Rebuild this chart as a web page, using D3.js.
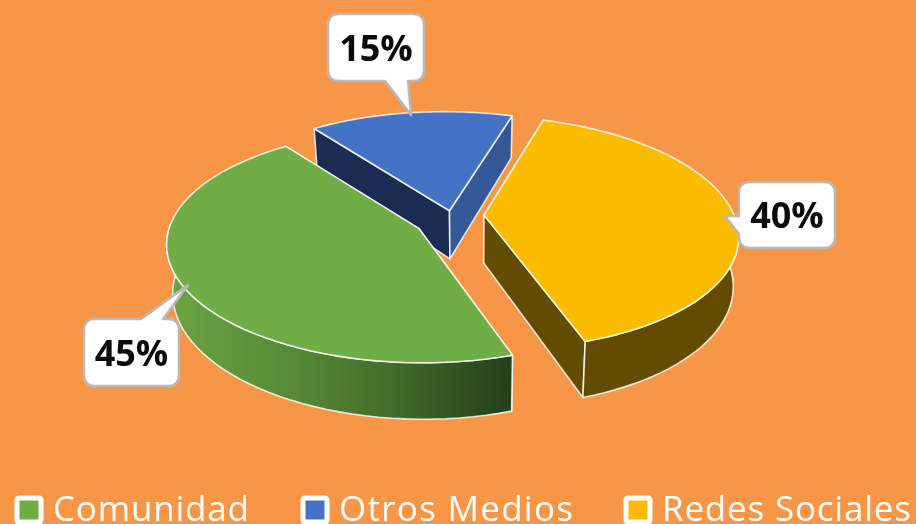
<!DOCTYPE html>
<html>
<head>
<meta charset="utf-8">
<script src="https://cdn.jsdelivr.net/npm/d3@7/dist/d3.min.js"></script>
<style>html,body{margin:0;padding:0;background:#F79646;overflow:hidden}svg{display:block;filter:blur(0.5px)}</style>
</head>
<body>
<svg id="c" width="916" height="524"></svg>
<script>
// ---- data ----
const categories = ["Comunidad", "Otros Medios", "Redes Sociales"];
const values = [45, 15, 40];
const labels = ["45%", "15%", "40%"];

// ---- styles & layout ----
const topColors = ["#70AD47", "#4472C4", "#FBBC00"];
const startFaceColors = ["#3f6428", "#1A2C52", "#634C00"];
const endFaceColors = ["#3f6428", "#355899", "#634C00"];
const explodeAmounts = [37, 16, 32];
const liftOffsets = [3, 0, -3];
const shears = [3, 6, 10];
const centre = {x: 452, y: 218};
const R = 250, RY = 114, P = 0.15, H = 48, VX = 470, SHRINK = 0.98;
const rad = d => d * Math.PI / 180;

const svg = d3.select("#c");
svg.append("rect").attr("width", 916).attr("height", 524).attr("fill", "#F79646");

const defs = svg.append("defs");
const grad = defs.append("linearGradient").attr("id", "gw").attr("gradientUnits", "userSpaceOnUse")
  .attr("x1", 170).attr("x2", 512).attr("y1", 0).attr("y2", 0);
[[0, "#6AA343"], [0.35, "#578A37"], [0.6, "#48712B"], [1, "#233F1C"]]
  .forEach(s => grad.append("stop").attr("offset", s[0]).attr("stop-color", s[1]));
const wallFills = ["url(#gw)", "#355899", "#634C00"];

const pie = d3.pie().sort(null).startAngle(rad(162)).endAngle(rad(522));
const arcs = pie(values);

// perspective projection of a rim point on the disc (r=1 rim, r=0 apex)
function project(apex, a, r, z) {
  const X = r * Math.sin(a), Y = r * Math.cos(a);
  const f = 1 / (1 + P * Y);
  let x = apex.x + (R * X - apex.shear * Y) * f;
  let y = apex.y - RY * Y * f;
  if (z) { x = VX + (x - VX) * SHRINK; y += H * f; }
  return [x, y];
}
const line = d3.line();
const sampled = (a0, a1) => d3.range(0, 61).map(i => a0 + (a1 - a0) * i / 60);

const slices = arcs.map((d, i) => {
  const mid = (d.startAngle + d.endAngle) / 2;
  const e = explodeAmounts[i];
  return {i, d, apex: {
    x: centre.x + e * Math.sin(mid),
    y: centre.y + liftOffsets[i] - e * Math.cos(mid) * RY / R,
    shear: shears[i]
  }};
});

const g = svg.append("g");
const edge = {stroke: "#fff", op: 0.82, w: 1.6};
function poly(pts, fill) {
  g.append("path").attr("d", line(pts) + "Z").attr("fill", fill)
    .attr("stroke", edge.stroke).attr("stroke-opacity", edge.op)
    .attr("stroke-width", edge.w).attr("stroke-linejoin", "round");
}
// back to front: Otros Medios, Redes Sociales, Comunidad
[1, 2, 0].forEach(k => {
  const s = slices[k], {d, apex, i} = s;
  const a0 = d.startAngle, a1 = d.endAngle;
  // radial side faces
  poly([project(apex, a0, 0, 0), project(apex, a0, 1, 0), project(apex, a0, 1, 1), project(apex, a0, 0, 1)], startFaceColors[i]);
  poly([project(apex, a1, 0, 0), project(apex, a1, 1, 0), project(apex, a1, 1, 1), project(apex, a1, 0, 1)], endFaceColors[i]);
  // outer curved wall, front part only
  const front = sampled(a0, a1).filter(a => Math.cos(a) < 0.05);
  if (front.length > 1) {
    poly(front.map(a => project(apex, a, 1, 0)).concat(front.slice().reverse().map(a => project(apex, a, 1, 1))), wallFills[i]);
  }
  // top face
  poly([project(apex, a0, 0, 0)].concat(sampled(a0, a1).map(a => project(apex, a, 1, 0))), topColors[i]);
});

// ---- callouts ----
const callouts = [
  {x0: 84, y0: 319, x1: 179, y1: 386, tip: [188, 285], side: "top", b0: 141, b1: 163},
  {x0: 328, y0: 14, x1: 424, y1: 81, tip: [411, 115], side: "bottom", b0: 385, b1: 408},
  {x0: 739, y0: 182, x1: 835, y1: 248, tip: [725, 216], side: "left", b0: 216, b1: 234}
];
const fontBold = "'Open Sans','Noto Sans',sans-serif";
callouts.forEach((c, i) => {
  const r = 11, p = d3.path();
  p.moveTo(c.x0 + r, c.y0);
  if (c.side === "top") { p.lineTo(c.b0, c.y0); p.lineTo(c.tip[0], c.tip[1]); p.lineTo(c.b1, c.y0); }
  p.lineTo(c.x1 - r, c.y0); p.quadraticCurveTo(c.x1, c.y0, c.x1, c.y0 + r);
  p.lineTo(c.x1, c.y1 - r); p.quadraticCurveTo(c.x1, c.y1, c.x1 - r, c.y1);
  if (c.side === "bottom") { p.lineTo(c.b1, c.y1); p.lineTo(c.tip[0], c.tip[1]); p.lineTo(c.b0, c.y1); }
  p.lineTo(c.x0 + r, c.y1); p.quadraticCurveTo(c.x0, c.y1, c.x0, c.y1 - r);
  if (c.side === "left") { p.lineTo(c.x0, c.b1); p.lineTo(c.tip[0], c.tip[1]); p.lineTo(c.x0, c.b0); }
  p.lineTo(c.x0, c.y0 + r); p.quadraticCurveTo(c.x0, c.y0, c.x0 + r, c.y0);
  p.closePath();
  svg.append("path").attr("d", p.toString()).attr("fill", "#fff")
    .attr("stroke", "#B9B9B9").attr("stroke-width", 2.5).attr("stroke-linejoin", "round");
  svg.append("text").attr("x", (c.x0 + c.x1) / 2).attr("y", (c.y0 + c.y1) / 2 + 13)
    .attr("text-anchor", "middle").attr("font-family", fontBold).attr("font-weight", 700)
    .attr("font-size", 36).attr("fill", "#0A0A0A").text(labels[i]);
});

// ---- legend ----
const legendX = d3.scaleOrdinal().domain(categories).range([17, 303, 626]);
const legendW = d3.scaleOrdinal().domain(categories).range([196, 234, 249]);
const leg = svg.selectAll("g.leg").data(categories).join("g").attr("class", "leg")
  .attr("transform", d => `translate(${legendX(d)},0)`);
leg.append("rect").attr("x", 0).attr("y", 498).attr("width", 24).attr("height", 24).attr("rx", 2)
  .attr("fill", (d, i) => topColors[i]).attr("stroke", "#fff").attr("stroke-width", 5);
leg.append("text").attr("x", 36).attr("y", 521)
  .attr("font-family", "'Open Sans','Noto Sans',sans-serif").attr("font-size", 35)
  .attr("fill", "#fff").attr("textLength", d => legendW(d)).attr("lengthAdjust", "spacing").text(d => d);
</script>
</body>
</html>
